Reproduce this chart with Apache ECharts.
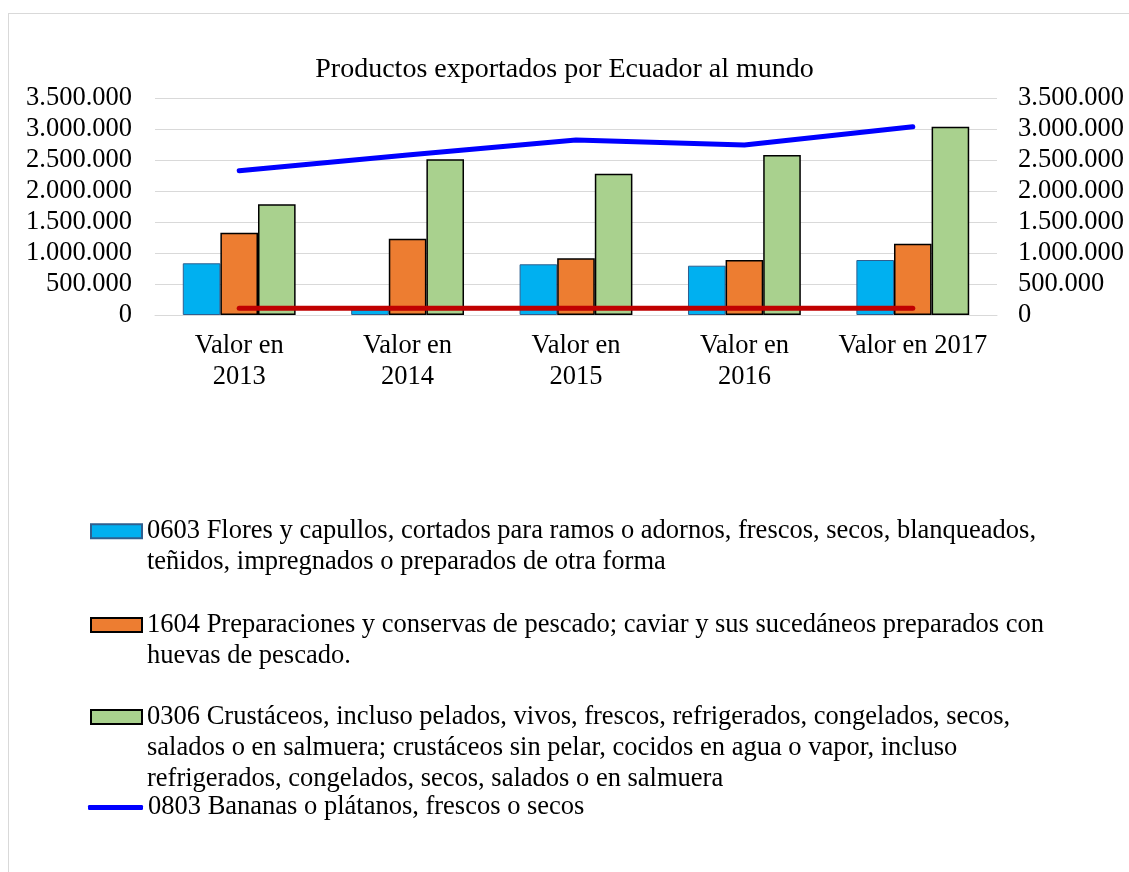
<!DOCTYPE html>
<html>
<head>
<meta charset="utf-8">
<script src="https://cdn.jsdelivr.net/npm/echarts@6/dist/echarts.min.js"></script>
<style>
  html, body { margin: 0; padding: 0; background: #fff; overflow: hidden; }
  #frame { position: absolute; left: 8px; top: 13px; width: 1300px; height: 1000px; border: 1px solid #d9d9d9; box-sizing: border-box; }
  #chart { position: absolute; left: 0; top: 0; width: 1129px; height: 872px; }
</style>
</head>
<body>
<div id="frame"></div>
<div id="chart"></div>
<script>
// ---- data ----
const chartTitle = 'Productos exportados por Ecuador al mundo';
const categories = ['Valor en\n2013', 'Valor en\n2014', 'Valor en\n2015', 'Valor en\n2016', 'Valor en 2017'];
const seriesNames = [
  '0603 Flores y capullos, cortados para ramos o adornos, frescos, secos, blanqueados, teñidos, impregnados o preparados de otra forma',
  '1604 Preparaciones y conservas de pescado; caviar y sus sucedáneos preparados con huevas de pescado.',
  '0306 Crustáceos, incluso pelados, vivos, frescos, refrigerados, congelados, secos, salados o en salmuera; crustáceos sin pelar, cocidos en agua o vapor, incluso refrigerados, congelados, secos, salados o en salmuera',
  '0803 Bananas o plátanos, frescos o secos',
  'Otro producto'
];
const legendLines = [
  ['0603 Flores y capullos, cortados para ramos o adornos, frescos, secos, blanqueados,', 'teñidos, impregnados o preparados de otra forma'],
  ['1604 Preparaciones y conservas de pescado; caviar y sus sucedáneos preparados con', 'huevas de pescado.'],
  ['0306 Crustáceos, incluso pelados, vivos, frescos, refrigerados, congelados, secos,', 'salados o en salmuera; crustáceos sin pelar, cocidos en agua o vapor, incluso', 'refrigerados, congelados, secos, salados o en salmuera'],
  ['0803 Bananas o plátanos, frescos o secos']
];
const flores = [834000, 90000, 818000, 795000, 887000];
const pescado = [1327000, 1231000, 914000, 887000, 1150000];
const crustaceos = [1785000, 2511000, 2279000, 2581000, 3037000];
const bananas = [2327000, 2580000, 2823000, 2742000, 3037000];
const otro = [108000, 108000, 108000, 108000, 108000];
const yTicks = { min: 0, max: 3500000, interval: 500000 };

// ---- chart ----
const FONT = '"Liberation Serif", "Times New Roman", serif';
const fmt = v => String(v).replace(/\B(?=(\d{3})+(?!\d))/g, '.');
const chart = echarts.init(document.getElementById('chart'), null, { renderer: 'canvas' });

const legendTops = [484.75, 578.5, 639.5, 792];
const legends = legendLines.map((lines, i) => {
  const isLine = i === 3;
  return {
    show: true,
    data: [seriesNames[i]],
    orient: 'vertical',
    left: isLine ? 88 : 90,
    top: legendTops[i],
    padding: 0,
    itemGap: 0,
    itemWidth: isLine ? 55 : 51,
    itemHeight: isLine ? 5 : 14,
    icon: isLine ? 'roundRect' : 'rect',
    selectedMode: false,
    formatter: () => '\n'.repeat(lines.length - 1) + lines.join('\n'),
    textStyle: { fontFamily: FONT, fontSize: 26.5, lineHeight: 31, color: '#000' }
  };
});

const axisLabelStyle = { fontFamily: FONT, fontSize: 26.5, color: '#000' };

const option = {
  backgroundColor: 'transparent',
  animation: false,
  title: {
    text: chartTitle,
    left: 'center',
    top: 56,
    padding: 0,
    textStyle: { fontFamily: FONT, fontSize: 28, fontWeight: 'normal', color: '#000' }
  },
  legend: legends,
  grid: { left: 155, right: 132, top: 98, bottom: 557, containLabel: false },
  xAxis: {
    type: 'category',
    data: categories,
    axisTick: { show: false },
    axisLine: { lineStyle: { color: '#d9d9d9', width: 1 } },
    axisLabel: Object.assign({ margin: 16, lineHeight: 30.5, interval: 0 }, axisLabelStyle)
  },
  yAxis: [
    {
      type: 'value', min: yTicks.min, max: yTicks.max, interval: yTicks.interval,
      axisLine: { show: false }, axisTick: { show: false },
      splitLine: { lineStyle: { color: '#d9d9d9', width: 1 } },
      axisLabel: Object.assign({ margin: 23, formatter: fmt }, axisLabelStyle)
    },
    {
      type: 'value', min: yTicks.min, max: yTicks.max, interval: yTicks.interval,
      position: 'right',
      axisLine: { show: false }, axisTick: { show: false },
      splitLine: { show: false },
      axisLabel: Object.assign({ margin: 21, formatter: fmt }, axisLabelStyle)
    }
  ],
  series: [
    {
      name: seriesNames[0], type: 'bar', data: flores,
      barGap: '0%', barCategoryGap: '33%',
      itemStyle: { color: '#00b0f0', borderColor: '#2f5f8f', borderWidth: 1 }
    },
    {
      name: seriesNames[1], type: 'bar', data: pescado,
      barGap: '0%', barCategoryGap: '33%',
      itemStyle: { color: '#ed7d31', borderColor: '#000', borderWidth: 1.5 }
    },
    {
      name: seriesNames[2], type: 'bar', data: crustaceos,
      barGap: '0%', barCategoryGap: '33%',
      itemStyle: { color: '#a9d18e', borderColor: '#000', borderWidth: 1.5 }
    },
    {
      name: seriesNames[3], type: 'line', data: bananas, yAxisIndex: 1,
      symbol: 'none', z: 5,
      itemStyle: { color: '#0000ff' },
      lineStyle: { color: '#0000ff', width: 5, cap: 'round', join: 'round' }
    },
    {
      name: seriesNames[4], type: 'line', data: otro, yAxisIndex: 1,
      symbol: 'none', z: 5,
      itemStyle: { color: '#c00000' },
      lineStyle: { color: '#c00000', width: 5, cap: 'round', join: 'round' }
    }
  ]
};
chart.setOption(option);
</script>
</body>
</html>
